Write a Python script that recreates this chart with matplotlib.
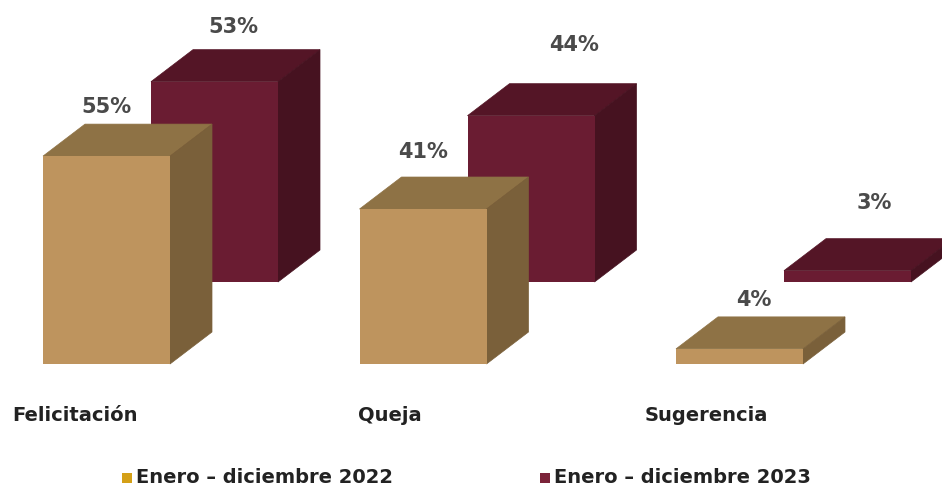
import numpy as np
import matplotlib
matplotlib.use('Agg')
import matplotlib.pyplot as plt
from matplotlib.patches import Polygon, Rectangle

categories = ['Felicitación', 'Queja', 'Sugerencia']
series_names = ['Enero – diciembre 2022', 'Enero – diciembre 2023']
values_2022 = [55, 41, 4]
values_2023 = [53, 44, 3]

# face colours: front, top, side
tan = ('#be945e', '#8e7245', '#7a603a')
maroon = ('#6a1c32', '#541526', '#461220')
legend_colors = ['#d4a017', '#7b2339']

fig = plt.figure(figsize=(9.42, 4.89), dpi=100)
ax = fig.add_axes([0, 0, 1, 1])
px = 3.78                      # pixels per percent
ax.set_xlim(0, 942)
ax.set_ylim(-124 / px, 365 / px)
ax.axis('off')

bar_w = 127
gap = 316.5
depth_x, depth_y = 42, 32 / px
back_x, back_y = 108, 82 / px


def box(x0, base, v, cols):
    x1 = x0 + bar_w
    y1 = base + v
    ax.add_patch(Polygon([(x0, y1), (x0 + depth_x, y1 + depth_y),
                          (x1 + depth_x, y1 + depth_y), (x1, y1)],
                         fc=cols[1], ec=cols[1], lw=0.5))
    ax.add_patch(Polygon([(x1, base), (x1 + depth_x, base + depth_y),
                          (x1 + depth_x, y1 + depth_y), (x1, y1)],
                         fc=cols[2], ec=cols[2], lw=0.5))
    ax.add_patch(Rectangle((x0, base), bar_w, v, fc=cols[0], ec='none'))


lab_dx_22 = [0, 0, 14]
lab_dy_22 = [18, 26, 18]
lab_dx_23 = [19, 43, 27]
lab_dy_23 = [24, 40, 37]

for i in range(len(categories)):
    x0 = 43 + i * gap
    box(x0 + back_x, back_y, values_2023[i], maroon)
    ax.text(x0 + back_x + bar_w / 2 + lab_dx_23[i],
            back_y + values_2023[i] + depth_y + lab_dy_23[i] / px,
            f'{values_2023[i]}%', ha='center', va='center',
            fontsize=15, fontweight='bold', color='#4a4a4a')
for i in range(len(categories)):
    x0 = 43 + i * gap
    box(x0, 0, values_2022[i], tan)
    ax.text(x0 + bar_w / 2 + lab_dx_22[i],
            values_2022[i] + depth_y + lab_dy_22[i] / px,
            f'{values_2022[i]}%', ha='center', va='center',
            fontsize=15, fontweight='bold', color='#4a4a4a')

cat_x = [12, 358, 645]
for i, c in enumerate(categories):
    ax.text(cat_x[i], -51 / px, c, ha='left', va='center',
            fontsize=14, fontweight='bold', color='#222222')

leg_x = [122, 540]
for i, name in enumerate(series_names):
    ax.add_patch(Rectangle((leg_x[i], -119 / px), 10, 10 / px,
                           fc=legend_colors[i], ec='none'))
    ax.text(leg_x[i] + 14, -113 / px, name, ha='left', va='center',
            fontsize=14, fontweight='bold', color='#222222')

fig.savefig('out.png', dpi=100)
